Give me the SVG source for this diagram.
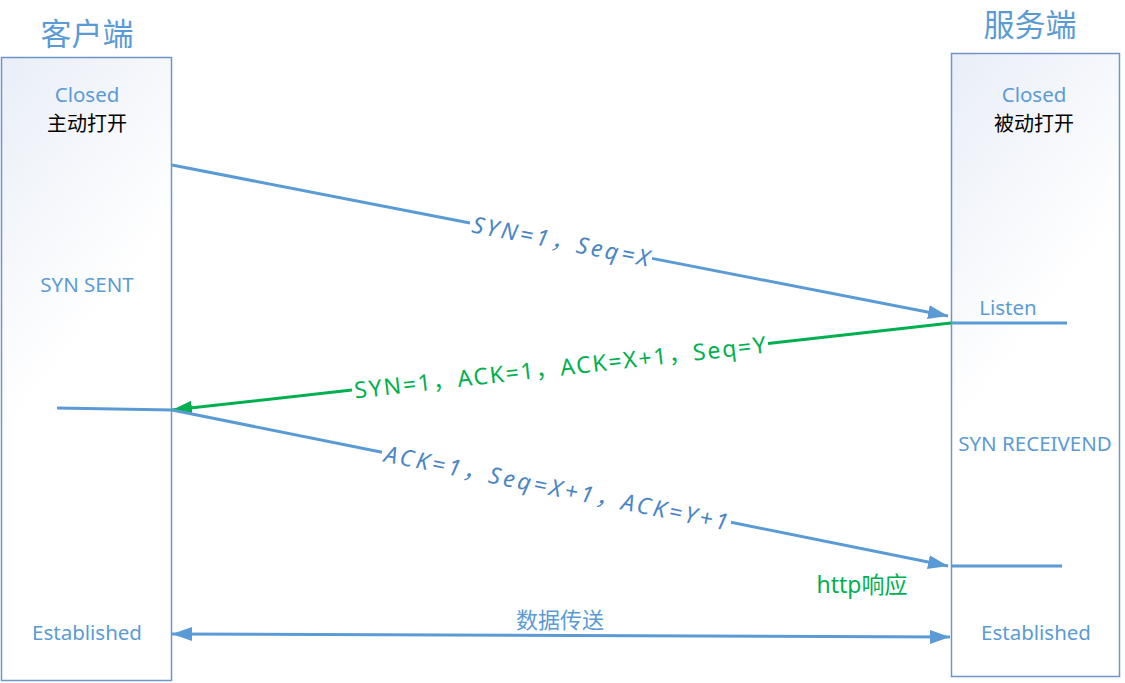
<svg xmlns="http://www.w3.org/2000/svg" width="1125" height="683" viewBox="0 0 1125 683">
<defs>
<linearGradient id="boxg" x1="0" y1="0" x2="0.35" y2="1">
<stop offset="0" stop-color="#E9EEF7"/>
<stop offset="0.55" stop-color="#FFFFFF"/>
<stop offset="1" stop-color="#FFFFFF"/>
</linearGradient>
<marker id="ab" markerUnits="userSpaceOnUse" markerWidth="22" markerHeight="16" refX="20" refY="8" orient="auto-start-reverse">
<path d="M0,1 L20,8 L0,15 Z" fill="#5B9BD5"/>
</marker>
<marker id="ag" markerUnits="userSpaceOnUse" markerWidth="22" markerHeight="16" refX="20" refY="8" orient="auto">
<path d="M0,1 L20,8 L0,15 Z" fill="#00B050"/>
</marker>
<style>
.box{fill:url(#boxg);stroke:#6F94C6;stroke-width:1.5}
.t{font-family:"Noto Sans","Noto Sans CJK SC",sans-serif;text-anchor:middle;fill:#5B9BD5}
.ttl{font-size:31px}
.st{font-size:20.5px}
.blk{fill:#000000;font-size:20px}
.lb{stroke:#5B9BD5;stroke-width:3;fill:none}
.lg{stroke:#00B050;stroke-width:3;fill:none}
.lbl{font-family:"Noto Sans","Noto Sans CJK SC",sans-serif;font-size:23px;text-anchor:middle;dominant-baseline:central}
.it{font-style:italic;fill:#4A86C5}
.gr{fill:#00B050}
</style>
</defs>
<g id="client">
<text class="t ttl" x="87" y="45">客户端</text>
<rect class="box" x="1.5" y="57.5" width="170" height="623"/>
<text class="t st" x="87" y="102">Closed</text>
<text class="t blk" x="87" y="131">主动打开</text>
<text class="t st" x="87" y="292">SYN SENT</text>
<text class="t st" x="87" y="640">Established</text>
</g>
<g id="server">
<text class="t ttl" x="1030" y="36">服务端</text>
<rect class="box" x="951.5" y="53.5" width="168" height="623"/>
<text class="t st" x="1034" y="102">Closed</text>
<text class="t blk" x="1034" y="131">被动打开</text>
<text class="t st" x="1008" y="315">Listen</text>
<text class="t st" x="1035" y="451">SYN RECEIVEND</text>
<text class="t st" x="1036" y="640">Established</text>
</g>
<g id="connectors">
<line class="lb" x1="57" y1="408" x2="172" y2="410"/>
<line class="lb" x1="951" y1="323" x2="1067" y2="323"/>
<line class="lb" x1="951" y1="566" x2="1062" y2="566"/>
<line class="lb" x1="172" y1="165" x2="470" y2="223"/>
<line class="lb" x1="652" y1="258.4" x2="948" y2="316" marker-end="url(#ab)"/>
<text class="lbl it" transform="translate(561,240.5) rotate(11)" textLength="180" lengthAdjust="spacing">SYN=1，Seq=X</text>
<line class="lg" x1="951" y1="323" x2="768" y2="343.4"/>
<line class="lg" x1="352" y1="390" x2="172" y2="410" marker-end="url(#ag)"/>
<text class="lbl gr" transform="translate(560,366.7) rotate(-6.37)" textLength="414" lengthAdjust="spacing">SYN=1，ACK=1，ACK=X+1，Seq=Y</text>
<line class="lb" x1="172" y1="410" x2="382" y2="452.2"/>
<line class="lb" x1="731" y1="522.3" x2="948" y2="566" marker-end="url(#ab)"/>
<text class="lbl it" transform="translate(556.5,487.2) rotate(11.37)" textLength="350" lengthAdjust="spacing">ACK=1，Seq=X+1，ACK=Y+1</text>
<line class="lb" x1="172" y1="634" x2="950" y2="637" stroke-width="2" marker-start="url(#ab)" marker-end="url(#ab)"/>
<text class="t" x="560" y="628" font-size="22">数据传送</text>
<text class="t gr" x="862" y="593" font-size="23">http响应</text>
</g>
</svg>
